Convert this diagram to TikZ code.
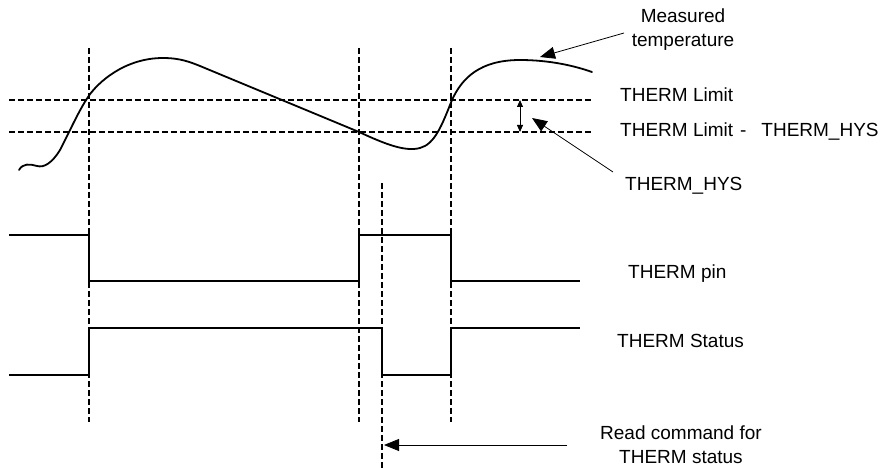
\documentclass[tikz,border=0pt]{standalone}
\usepackage{fontspec}
\setmainfont{Liberation Sans}
\usetikzlibrary{arrows.meta}
\begin{document}
\begin{tikzpicture}[x=1pt,y=-1pt,
  lbl/.style={inner sep=0pt,anchor=base west,font=\fontsize{19}{24}\selectfont},
  clbl/.style={inner sep=0pt,align=center,font=\fontsize{19}{24}\selectfont},
  sig/.style={line width=1.8pt,line join=miter},
  vdash/.style={line width=1.1pt,dash pattern=on 6pt off 3pt},
  hdash/.style={line width=1.1pt,dash pattern=on 6pt off 3pt},
  pointer/.style={line width=0.8pt,-{Triangle[length=15pt,width=12pt]}},
  span/.style={line width=0.8pt,{Triangle[length=7pt,width=6pt]}-{Triangle[length=7pt,width=6pt]}}]
\useasboundingbox (0,0) rectangle (887,468);
% reference lines
\draw[hdash] (9,100) -- (592,100);
\draw[hdash] (9,132) -- (592,132);
\draw[vdash] (89,48) -- (89,422);
\draw[vdash] (359,48) -- (359,422);
\draw[vdash] (451,48) -- (451,422);
\draw[vdash] (382,183) -- (382,468);
% temperature curve
\draw[line width=1.8pt,line cap=round]
 (19,170) .. controls (23,163) and (30,164) .. (37,166)
 .. controls (44,168) and (52,163) .. (60,150)
 .. controls (68,135) and (78,112) .. (88,97)
 .. controls (98,82) and (125,58) .. (163,58)
 .. controls (180,58) and (190,62) .. (200,66)
 -- (359,132)
 .. controls (385,144) and (405,152) .. (420,148)
 .. controls (435,144) and (442,125) .. (452,100)
 .. controls (462,78) and (480,60) .. (520,60)
 .. controls (550,60) and (575,66) .. (592,72);
% THERM pin
\draw[sig] (9,235) -- (89,235) -- (89,281) -- (359,281) -- (359,235)
  -- (451,235) -- (451,281) -- (580,281);
% THERM status
\draw[sig] (9,375) -- (89,375) -- (89,328) -- (382,328) -- (382,375)
  -- (451,375) -- (451,328) -- (580,328);
% labels
\node[clbl] (meas) at (683,30) {Measured\\temperature};
\node[lbl] (lim) at (620,102) {THERM Limit};
\node[lbl] (limhys) at (620,137) {THERM Limit\hspace{7pt}-\hspace{15pt}THERM\_HYS};
\node[lbl] (hys) at (625,190) {THERM\_HYS};
\node[lbl] (pin) at (628,278) {THERM pin};
\node[lbl] (stat) at (617,347) {THERM Status};
\node[clbl] (read) at (681,445) {Read command for\\THERM status};
% pointers
\coordinate (mtip) at (540,57);
\coordinate (htip) at (532,118);
\coordinate (rtip) at (384,445);
\coordinate (rstart) at (567,445);
\coordinate (hstart) at (613,172);
\coordinate (mstart) at (624,33);
\draw[pointer] (mstart) -- (mtip);
\draw[pointer] (hstart) -- (htip);
\draw[pointer] (rstart) -- (rtip);
\coordinate (ha) at (520,100);
\coordinate (hb) at (520,132);
\draw[span] (ha) -- (hb);
\end{tikzpicture}
\end{document}
